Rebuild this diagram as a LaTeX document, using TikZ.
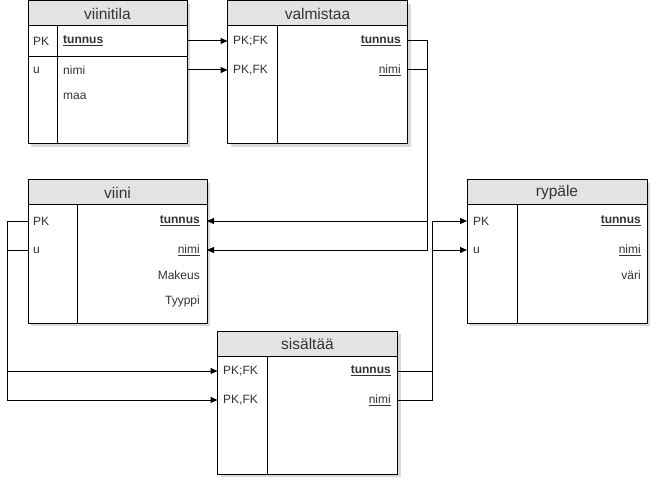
\documentclass[tikz,border=0pt]{standalone}
\usepackage{fontspec}
\setmainfont{Liberation Sans}
\usetikzlibrary{shadows,arrows.meta}
\definecolor{hdrgray}{HTML}{E3E3E3}
\definecolor{txt}{HTML}{333333}
\tikzset{
  tbl/.style={draw=black, line width=1pt, fill=white, anchor=north west, inner sep=0pt, outer sep=0pt,
    minimum height=143pt,
    drop shadow={shadow xshift=3pt, shadow yshift=-3pt, opacity=0.15, fill=black}},
  hdr/.style={draw=black, line width=1pt, fill=hdrgray, anchor=north west, inner sep=0pt, outer sep=0pt,
    minimum height=25pt, text=txt, font=\fontsize{15.5}{18}\selectfont},
  rowbox/.style={inner sep=0pt, outer sep=0pt, minimum height=20pt, anchor=west},
  cell/.style={inner sep=0pt, text=txt, font=\fontsize{12}{14}\selectfont},
  lcell/.style={cell, anchor=west},
  rcell/.style={cell, anchor=east},
  divline/.style={line width=1pt, black},
  conn/.style={line width=1pt, black, -{Triangle[length=7pt,width=6pt]}},
  plain/.style={line width=1pt, black},
}
\newcommand{\ulb}[1]{\underline{\textbf{#1}}}
\begin{document}
\begin{tikzpicture}[x=1pt,y=-1pt]
\useasboundingbox (0,0) rectangle (668,486);
\fill[white] (0,0) rectangle (668,486);

% ---------- viinitila ----------
\node[tbl, minimum width=159pt] (vt) at (28,1) {};
\node[hdr, minimum width=159pt] (vth) at (28,1) {viinitila};
\draw[divline] (57,26) -- (57,144);
\draw[divline] (28,57) -- (187,57);
\node[rowbox, minimum width=159pt] (vt1) at (28,41) {};
\node[rowbox, minimum width=159pt] (vt2) at (28,70) {};
\node[lcell] (vt1k) at (33,41) {PK};
\node[lcell] (vt1a) at (63,41) {\ulb{tunnus}};
\node[lcell] (vt2k) at (33,70) {u};
\node[lcell] (vt2a) at (63,70) {nimi};
\node[lcell] (vt3a) at (63,96) {maa};

% ---------- valmistaa ----------
\node[tbl, minimum width=180pt] (vm) at (227.5,1) {};
\node[hdr, minimum width=180pt] (vmh) at (227.5,1) {valmistaa};
\draw[divline] (277,26) -- (277,144);
\node[rowbox, minimum width=180pt] (vm1) at (227.5,41) {};
\node[rowbox, minimum width=180pt] (vm2) at (227.5,70) {};
\node[lcell] (vm1k) at (233,41) {PK;FK};
\node[rcell] (vm1a) at (401,41) {\ulb{tunnus}};
\node[lcell] (vm2k) at (233,70) {PK,FK};
\node[rcell] (vm2a) at (401,70) {\underline{nimi}};

% ---------- viini ----------
\node[tbl, minimum width=179pt] (vi) at (28,180) {};
\node[hdr, minimum width=179pt] (vih) at (28,180) {viini};
\draw[divline] (77,205) -- (77,323);
\node[rowbox, minimum width=179pt] (vi1) at (28,221) {};
\node[rowbox, minimum width=179pt] (vi2) at (28,250) {};
\node[lcell] (vi1k) at (33,221) {PK};
\node[rcell] (vi1a) at (200,221) {\ulb{tunnus}};
\node[lcell] (vi2k) at (33,250) {u};
\node[rcell] (vi2a) at (200,250) {\underline{nimi}};
\node[rcell] (vi3a) at (200,275) {Makeus};
\node[rcell] (vi4a) at (200,301) {Tyyppi};

% ---------- rypäle ----------
\node[tbl, minimum width=180pt] (ry) at (467,180) {};
\node[hdr, minimum width=180pt] (ryh) at (467,180) {rypäle};
\draw[divline] (517,205) -- (517,323);
\node[rowbox, minimum width=180pt] (ry1) at (467,221) {};
\node[rowbox, minimum width=180pt] (ry2) at (467,250) {};
\node[lcell] (ry1k) at (473,221) {PK};
\node[rcell] (ry1a) at (641,221) {\ulb{tunnus}};
\node[lcell] (ry2k) at (473,250) {u};
\node[rcell] (ry2a) at (641,250) {\underline{nimi}};
\node[rcell] (ry3a) at (641,275) {väri};

% ---------- sisältää ----------
\node[tbl, minimum width=180pt] (si) at (217.5,331) {};
\node[hdr, minimum width=180pt] (sih) at (217.5,331) {sisältää};
\draw[divline] (267.5,356) -- (267.5,474);
\node[rowbox, minimum width=180pt] (si1) at (217.5,371) {};
\node[rowbox, minimum width=180pt] (si2) at (217.5,400) {};
\node[lcell] (si1k) at (223,371) {PK;FK};
\node[rcell] (si1a) at (391,371) {\ulb{tunnus}};
\node[lcell] (si2k) at (223,400) {PK,FK};
\node[rcell] (si2a) at (391,400) {\underline{nimi}};

% ---------- connectors ----------
\coordinate (busA) at (427,0);
\coordinate (busL) at (7.5,0);
\coordinate (busR) at (432.5,0);

\draw[conn] (vt1.east) -- (vm1.west);
\draw[conn] (vt2.east) -- (vm2.west);

\draw[conn] (vm1.east) -- (vm1.east -| busA) -- (vi1.east -| busA) -- (vi1.east);
\draw[conn] (vm2.east) -- (vm2.east -| busA) -- (vi2.east -| busA) -- (vi2.east);

\draw[conn] (vi1.west) -- (vi1.west -| busL) -- (si1.west -| busL) -- (si1.west);
\draw[conn] (vi2.west) -- (vi2.west -| busL) -- (si2.west -| busL) -- (si2.west);

\draw[conn] (si1.east) -- (si1.east -| busR) -- (ry1.west -| busR) -- (ry1.west);
\draw[conn] (si2.east) -- (si2.east -| busR) -- (ry2.west -| busR) -- (ry2.west);
\end{tikzpicture}
\end{document}
